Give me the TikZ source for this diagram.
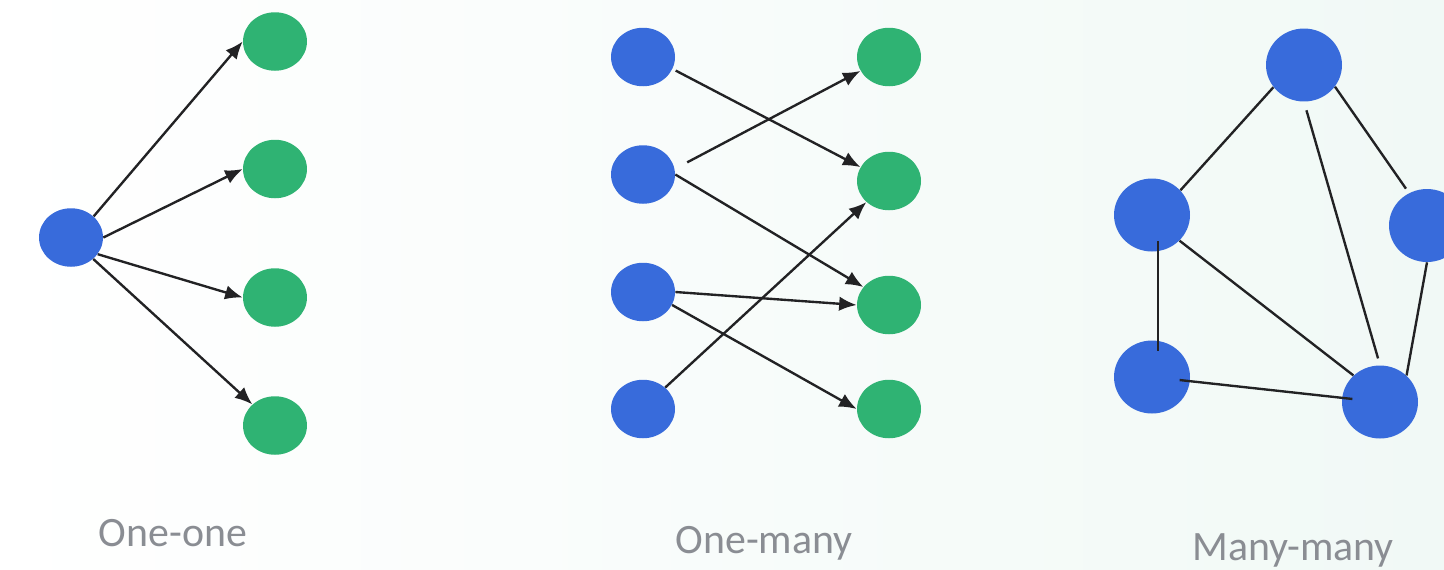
\documentclass[tikz,border=0pt]{standalone}
\usepackage{fontspec}
\setmainfont{Carlito}
\usetikzlibrary{arrows.meta, shapes.geometric}

\definecolor{dotblue}{RGB}{56,107,219}
\definecolor{dotgreen}{RGB}{47,179,115}
\definecolor{linkgray}{RGB}{34,34,36}
\definecolor{captiongray}{RGB}{138,141,147}
\definecolor{bgmint}{RGB}{241,249,246}

\begin{document}
\begin{tikzpicture}[
    x = 0.02cm, y = -0.02cm,
    >={Latex[length=3.5mm, width=2.9mm]},
    link/.style = {every edge/.style = {draw = linkgray, line width = 1.35pt}},
    arrowlink/.style = {every edge/.style = {draw = linkgray, line width = 1.35pt, ->}},
    smallball/.style = {shape = ellipse, inner sep = 0pt, draw = none,
                        minimum width = 1.28cm, minimum height = 1.17cm},
    bigball/.style = {shape = ellipse, inner sep = 0pt, draw = none,
                      minimum width = 1.52cm, minimum height = 1.46cm, fill = dotblue},
    caption/.style = {text = captiongray, inner sep = 0pt, anchor = base,
                      font = \fontsize{23.8}{28}\selectfont}
  ]
        % ------------------------------------------------------------------------
        % Page
        \useasboundingbox (0, 0) rectangle (1444, 569);
        \clip (0, 0) rectangle (1444, 569);
        \shade[left color = white, right color = bgmint] (0, 0) rectangle (1444, 569);

        % ------------------------------------------------------------------------
        % One-one
        \node[smallball, fill = dotblue]  at ( 71, 237.5) (o)  {};
        \node[smallball, fill = dotgreen] at (275,  41.5) (g1) {};
        \node[smallball, fill = dotgreen] at (275, 169.0) (g2) {};
        \node[smallball, fill = dotgreen] at (275, 297.5) (g3) {};
        \node[smallball, fill = dotgreen] at (275, 425.5) (g4) {};

        \path[arrowlink]
          (o.43)  edge (g1.west)
          (o.east) edge (g2.west)
          (o.-32) edge (g3.west)
          (o.-44) edge (g4.137)
        ;

        \node[caption] at (173, 546) (c1) {One-one};

        % ------------------------------------------------------------------------
        % One-many
        \node[smallball, fill = dotblue]  at (643,  57) (b1) {};
        \node[smallball, fill = dotblue]  at (643, 174.5) (b2) {};
        \node[smallball, fill = dotblue]  at (643, 292) (b3) {};
        \node[smallball, fill = dotblue]  at (643, 409) (b4) {};

        \node[smallball, fill = dotgreen] at (889,  57) (h1) {};
        \node[smallball, fill = dotgreen] at (889, 181) (h2) {};
        \node[smallball, fill = dotgreen] at (889, 305) (h3) {};
        \node[smallball, fill = dotgreen] at (889, 409) (h4) {};

        \path[arrowlink]
          (b1.-22)  edge[shorten <= 2pt] (h2.154)
          (b2.10)   edge[shorten <= 8pt] (h1.206)
          (b2.east) edge (h3.145)
          (b3.east) edge (h3.west)
          (b3.-24)  edge (h4.west)
          (b4.44)   edge (h2.-137)
        ;

        \node[caption] at (764, 553.5) (c2) {One-many};

        % ------------------------------------------------------------------------
        % Many-many
        \node[bigball] at (1304,  65) (m1) {};
        \node[bigball] at (1152, 215) (m2) {};
        \node[bigball] at (1427, 225.5) (m3) {};
        \node[bigball] at (1152, 377) (m4) {};
        \node[bigball] at (1380, 402) (m5) {};

        \path[link]
          (m1.-144) edge (m2.41)
          (m1.south) edge[shorten <= 5pt, shorten >= 4pt] (m5.north)
          (m1.-35)  edge[shorten >= 3pt] (m3.119)
          ([xshift = 0.12cm]m2.south) edge[shorten <= -6pt, shorten >= -6pt] ([xshift = 0.12cm]m4.north)
          (m2.-43)  edge (m5.135)
          (m4)      edge[shorten <= -6pt, shorten >= -6pt] (m5)
          (m3.south) edge (m5.45)
        ;

        \node[caption] at (1293, 560) (c3) {Many-many};
      \end{tikzpicture}
\end{document}
